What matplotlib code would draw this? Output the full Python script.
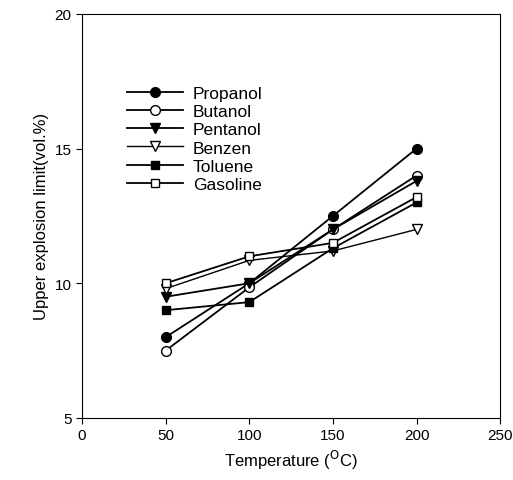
import matplotlib.pyplot as plt

plt.rcParams['font.family'] = ['Liberation Sans', 'DejaVu Sans']

# Data
temps = [50, 100, 150, 200]
propanol = [8.0, 10.0, 12.5, 15.0]
butanol = [7.5, 9.85, 12.0, 14.0]
pentanol = [9.5, 10.0, 12.0, 13.8]
benzen = [9.8, 10.85, 11.2, 12.0]
toluene = [9.0, 9.3, 11.3, 13.0]
gasoline = [10.0, 11.0, 11.5, 13.2]

fig = plt.figure(figsize=(5.13, 4.81), dpi=100)
ax = fig.add_axes([0.16, 0.129, 0.815, 0.84])

ax.plot(temps, propanol, '-o', color='black', mfc='black', ms=7, lw=1.3, label='Propanol')
ax.plot(temps, butanol, '-o', color='black', mfc='white', ms=7, lw=1.3, label='Butanol')
ax.plot(temps, pentanol, '-v', color='black', mfc='black', ms=7, lw=1.3, label='Pentanol')
ax.plot(temps, benzen, '-v', color='black', mfc='white', ms=7, lw=1.0, label='Benzen')
ax.plot(temps, toluene, '-s', color='black', mfc='black', ms=6, lw=1.3, label='Toluene')
ax.plot(temps, gasoline, '-s', color='black', mfc='white', ms=6, lw=1.3, label='Gasoline')

ax.set_xlim(0, 250)
ax.set_ylim(5, 20)
ax.set_xticks([0, 50, 100, 150, 200, 250])
ax.set_yticks([5, 10, 15, 20])
ax.tick_params(direction='out', labelsize=11, length=4)
ax.set_xlabel('Temperature ($^{\\mathrm{O}}$C)', fontsize=12)
ax.set_ylabel('Upper explosion limit(vol.%)', fontsize=12)

ax.legend(loc='upper left', bbox_to_anchor=(0.07, 0.86), frameon=False,
          fontsize=12.5, handlelength=3.2, labelspacing=0.17, handletextpad=0.6)

plt.savefig('out.png', dpi=100)
